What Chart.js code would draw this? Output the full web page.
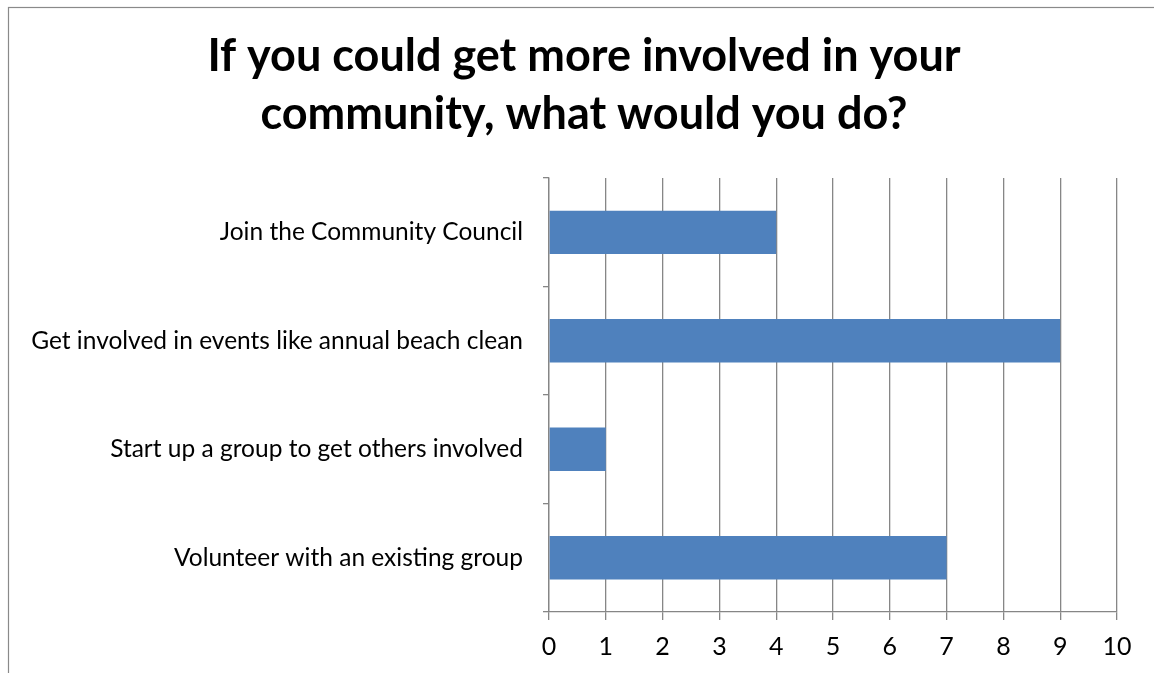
<!DOCTYPE html>
<html>
<head>
<meta charset="utf-8">
<script src="https://cdn.jsdelivr.net/npm/chart.js@4.4.1/dist/chart.umd.min.js"></script>
<style>
  html, body { margin: 0; padding: 0; background: #fff; overflow: hidden; }
  #wrap { position: absolute; left: 0; top: 0; width: 1154px; height: 673px; }
</style>
</head>
<body>
<div id="wrap"><canvas id="c"></canvas></div>
<script>
const categories = [
  "Join the Community Council",
  "Get involved in events like annual beach clean",
  "Start up a group to get others involved",
  "Volunteer with an existing group"
];
const values = [4, 9, 1, 7];
const titleLines = ["If you could get more involved in your", "community, what would you do?"];
const xMin = 0, xMax = 10, xStep = 1;

const frame = {
  id: 'frame',
  beforeDraw(chart) {
    const ctx = chart.ctx;
    ctx.save();
    ctx.fillStyle = '#ffffff';
    ctx.fillRect(0, 0, chart.width, chart.height);
    ctx.strokeStyle = '#8a8a8a';
    ctx.lineWidth = 1.2;
    ctx.strokeRect(8.5, 7.5, chart.width + 20, chart.height + 20);
    ctx.restore();
  }
};

const padL = 20, padR = 6;

new Chart(document.getElementById('c'), {
  type: 'bar',
  data: {
    labels: categories,
    datasets: [{
      data: values,
      backgroundColor: '#4F81BD',
      borderWidth: 0,
      barPercentage: 0.4,
      categoryPercentage: 1.0,
      xAxisID: 'x',
      yAxisID: 'y'
    }]
  },
  options: {
    indexAxis: 'y',
    responsive: true,
    maintainAspectRatio: false,
    animation: false,
    devicePixelRatio: 1,
    layout: { padding: { left: padL, right: padR, top: 27, bottom: 0 } },
    plugins: {
      legend: { display: false },
      tooltip: { enabled: false },
      title: {
        display: true,
        text: titleLines,
        color: '#000000',
        font: { family: 'Lato', size: 45, weight: 'bold', lineHeight: 1.29 },
        padding: { top: 0, bottom: 35 }
      }
    },
    scales: {
      x: {
        type: 'linear',
        min: xMin, max: xMax,
        ticks: {
          stepSize: xStep,
          color: '#000000',
          font: { family: 'Lato', size: 25 },
          padding: 12
        },
        grid: {
          color: '#868686',
          lineWidth: 1.3,
          drawTicks: true,
          tickLength: 8,
          tickColor: '#868686'
        },
        border: { display: true, color: '#868686', width: 1.3 },
        afterFit(scale) { scale.height = 61; }
      },
      y: {
        type: 'category',
        position: 'left',
        ticks: {
          color: '#000000',
          font: { family: 'Lato', size: 24.5 },
          padding: 20
        },
        grid: {
          offset: true,
          drawOnChartArea: false,
          drawTicks: true,
          tickLength: 6,
          tickColor: '#868686',
          lineWidth: 1.3
        },
        border: { display: true, color: '#868686', width: 1.3 },
        afterFit(scale) { scale.width = 549 - padL; }
      },
      ySpacer: {
        type: 'linear',
        position: 'right',
        display: true,
        ticks: { display: false },
        grid: { display: false, drawTicks: false },
        border: { display: false },
        afterFit(scale) { scale.width = 1154 - padR - 1117; }
      }
    }
  },
  plugins: [frame]
});
</script>
</body>
</html>
